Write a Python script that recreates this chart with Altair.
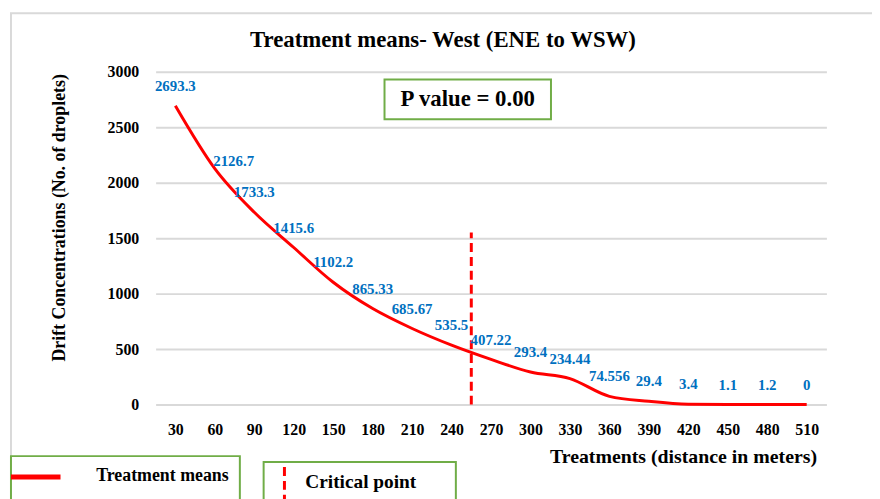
import altair as alt
import pandas as pd

# ---- data ----
distances = [30, 60, 90, 120, 150, 180, 210, 240, 270, 300, 330, 360, 390, 420, 450, 480, 510]
means = [2693.3, 2126.7, 1733.3, 1415.6, 1102.2, 865.33, 685.67, 535.5, 407.22,
         293.4, 234.44, 74.556, 29.4, 3.4, 1.1, 1.2, 0]
labels = ["2693.3", "2126.7", "1733.3", "1415.6", "1102.2", "865.33", "685.67", "535.5",
          "407.22", "293.4", "234.44", "74.556", "29.4", "3.4", "1.1", "1.2", "0"]
y_ticks = [0, 500, 1000, 1500, 2000, 2500, 3000]
critical_x = 255
critical_top = 1550
p_text = "P value = 0.00"
title_text = "Treatment means- West (ENE to WSW)"
x_title = "Treatments (distance in meters)"
y_title = "Drift Concentrations (No. of droplets)"
legend_names = ["Treatment means", "Critical point"]

FONT = "Liberation Serif"
RED = "#FF0000"
BLUE = "#0070C0"
GREEN = "#70AD47"
GRID = "#D9D9D9"

df = pd.DataFrame({"distance": distances, "mean": means, "label": labels})
crit = pd.DataFrame({"x": [critical_x], "y": [0], "y2": [critical_top]})
one = pd.DataFrame({"a": [0]})

x_scale = alt.Scale(domain=[15, 525], nice=False, zero=False)
y_scale = alt.Scale(domain=[0, 3000], nice=False)

x_axis = alt.Axis(values=distances, grid=False, domain=False, ticks=False, format="d",
                  labelFont=FONT, labelFontWeight="bold", labelFontSize=16, labelColor="black",
                  labelPadding=17, title=x_title, titleFont=FONT, titleFontWeight="bold",
                  titleFontSize=20, titleColor="black", titleAlign="right", titleAnchor="end",
                  titleX=667, titleY=52, titleBaseline="middle")
y_axis = alt.Axis(values=y_ticks, grid=True, gridColor=GRID, gridWidth=2, domain=False, ticks=False,
                  format="d",
                  labelFont=FONT, labelFontWeight="bold", labelFontSize=16, labelColor="black",
                  labelPadding=17, title=y_title, titleFont=FONT, titleFontWeight="bold",
                  titleFontSize=18, titleColor="black", titleAngle=-90, titleX=-97, titleY=147,
                  titleAlign="center", titleBaseline="middle")

base = alt.Chart(df)

line = base.mark_line(color=RED, strokeWidth=3, interpolate="monotone").encode(
    x=alt.X("distance:Q", scale=x_scale, axis=x_axis),
    y=alt.Y("mean:Q", scale=y_scale, axis=y_axis),
)

text_main = base.transform_filter(alt.datum.distance != 60).mark_text(
    font=FONT, fontWeight="bold", fontSize=15, color=BLUE, dy=-20
).encode(x="distance:Q", y="mean:Q", text="label:N")

text_side = base.transform_filter(alt.datum.distance == 60).mark_text(
    font=FONT, fontWeight="bold", fontSize=15, color=BLUE, dx=19, dy=-8
).encode(x="distance:Q", y="mean:Q", text="label:N")

crit_rule = alt.Chart(crit).mark_rule(color=RED, strokeWidth=3, strokeDash=[9, 5]).encode(
    x="x:Q", y="y:Q", y2="y2:Q"
)

# chart border
border = alt.Chart(one).mark_rect(fill=None, stroke=GRID, strokeWidth=2).encode(
    x=alt.value(-146), x2=alt.value(900), y=alt.value(-59), y2=alt.value(1000)
)

# chart title
title_mark = alt.Chart(one).mark_text(font=FONT, fontWeight="bold", fontSize=23, color="black",
                                      baseline="middle").encode(
    x=alt.value(290), y=alt.value(-32), text=alt.value(title_text)
)

# P value box
p_box = alt.Chart(one).mark_rect(fill="white", stroke=GREEN, strokeWidth=2).encode(
    x=alt.value(231), x2=alt.value(399), y=alt.value(8), y2=alt.value(48)
)
p_label = alt.Chart(one).mark_text(font=FONT, fontWeight="bold", fontSize=23, color="black",
                                   baseline="middle").encode(
    x=alt.value(315), y=alt.value(28), text=alt.value(p_text)
)

# legend boxes
leg1_box = alt.Chart(one).mark_rect(fill="white", stroke=GREEN, strokeWidth=2).encode(
    x=alt.value(-146), x2=alt.value(85), y=alt.value(388), y2=alt.value(460)
)
leg1_sym = alt.Chart(one).mark_rule(color=RED, strokeWidth=5).encode(
    x=alt.value(-146), x2=alt.value(-96), y=alt.value(409)
)
leg1_txt = alt.Chart(one).mark_text(font=FONT, fontWeight="bold", fontSize=18, color="black",
                                    align="left", baseline="middle").encode(
    x=alt.value(-60), y=alt.value(408), text=alt.value(legend_names[0])
)
leg2_box = alt.Chart(one).mark_rect(fill="white", stroke=GREEN, strokeWidth=2).encode(
    x=alt.value(109), x2=alt.value(303), y=alt.value(394), y2=alt.value(460)
)
leg2_sym = alt.Chart(one).mark_rule(color=RED, strokeWidth=3, strokeDash=[9, 5]).encode(
    x=alt.value(130), y=alt.value(399), y2=alt.value(460)
)
leg2_txt = alt.Chart(one).mark_text(font=FONT, fontWeight="bold", fontSize=19.5, color="black",
                                    align="left", baseline="middle").encode(
    x=alt.value(151), y=alt.value(414), text=alt.value(legend_names[1])
)

chart = alt.layer(
    border, title_mark, line, crit_rule, text_main, text_side, p_box, p_label,
    leg1_box, leg1_sym, leg1_txt, leg2_box, leg2_sym, leg2_txt
).properties(
    width=677, height=336,
    autosize=alt.AutoSizeParams(type="none"),
    padding={"left": 149, "top": 62, "right": 46, "bottom": 93},
    background="white",
).configure_view(stroke=None)

chart.save("out.html", embed_options={"renderer": "svg", "actions": False})
